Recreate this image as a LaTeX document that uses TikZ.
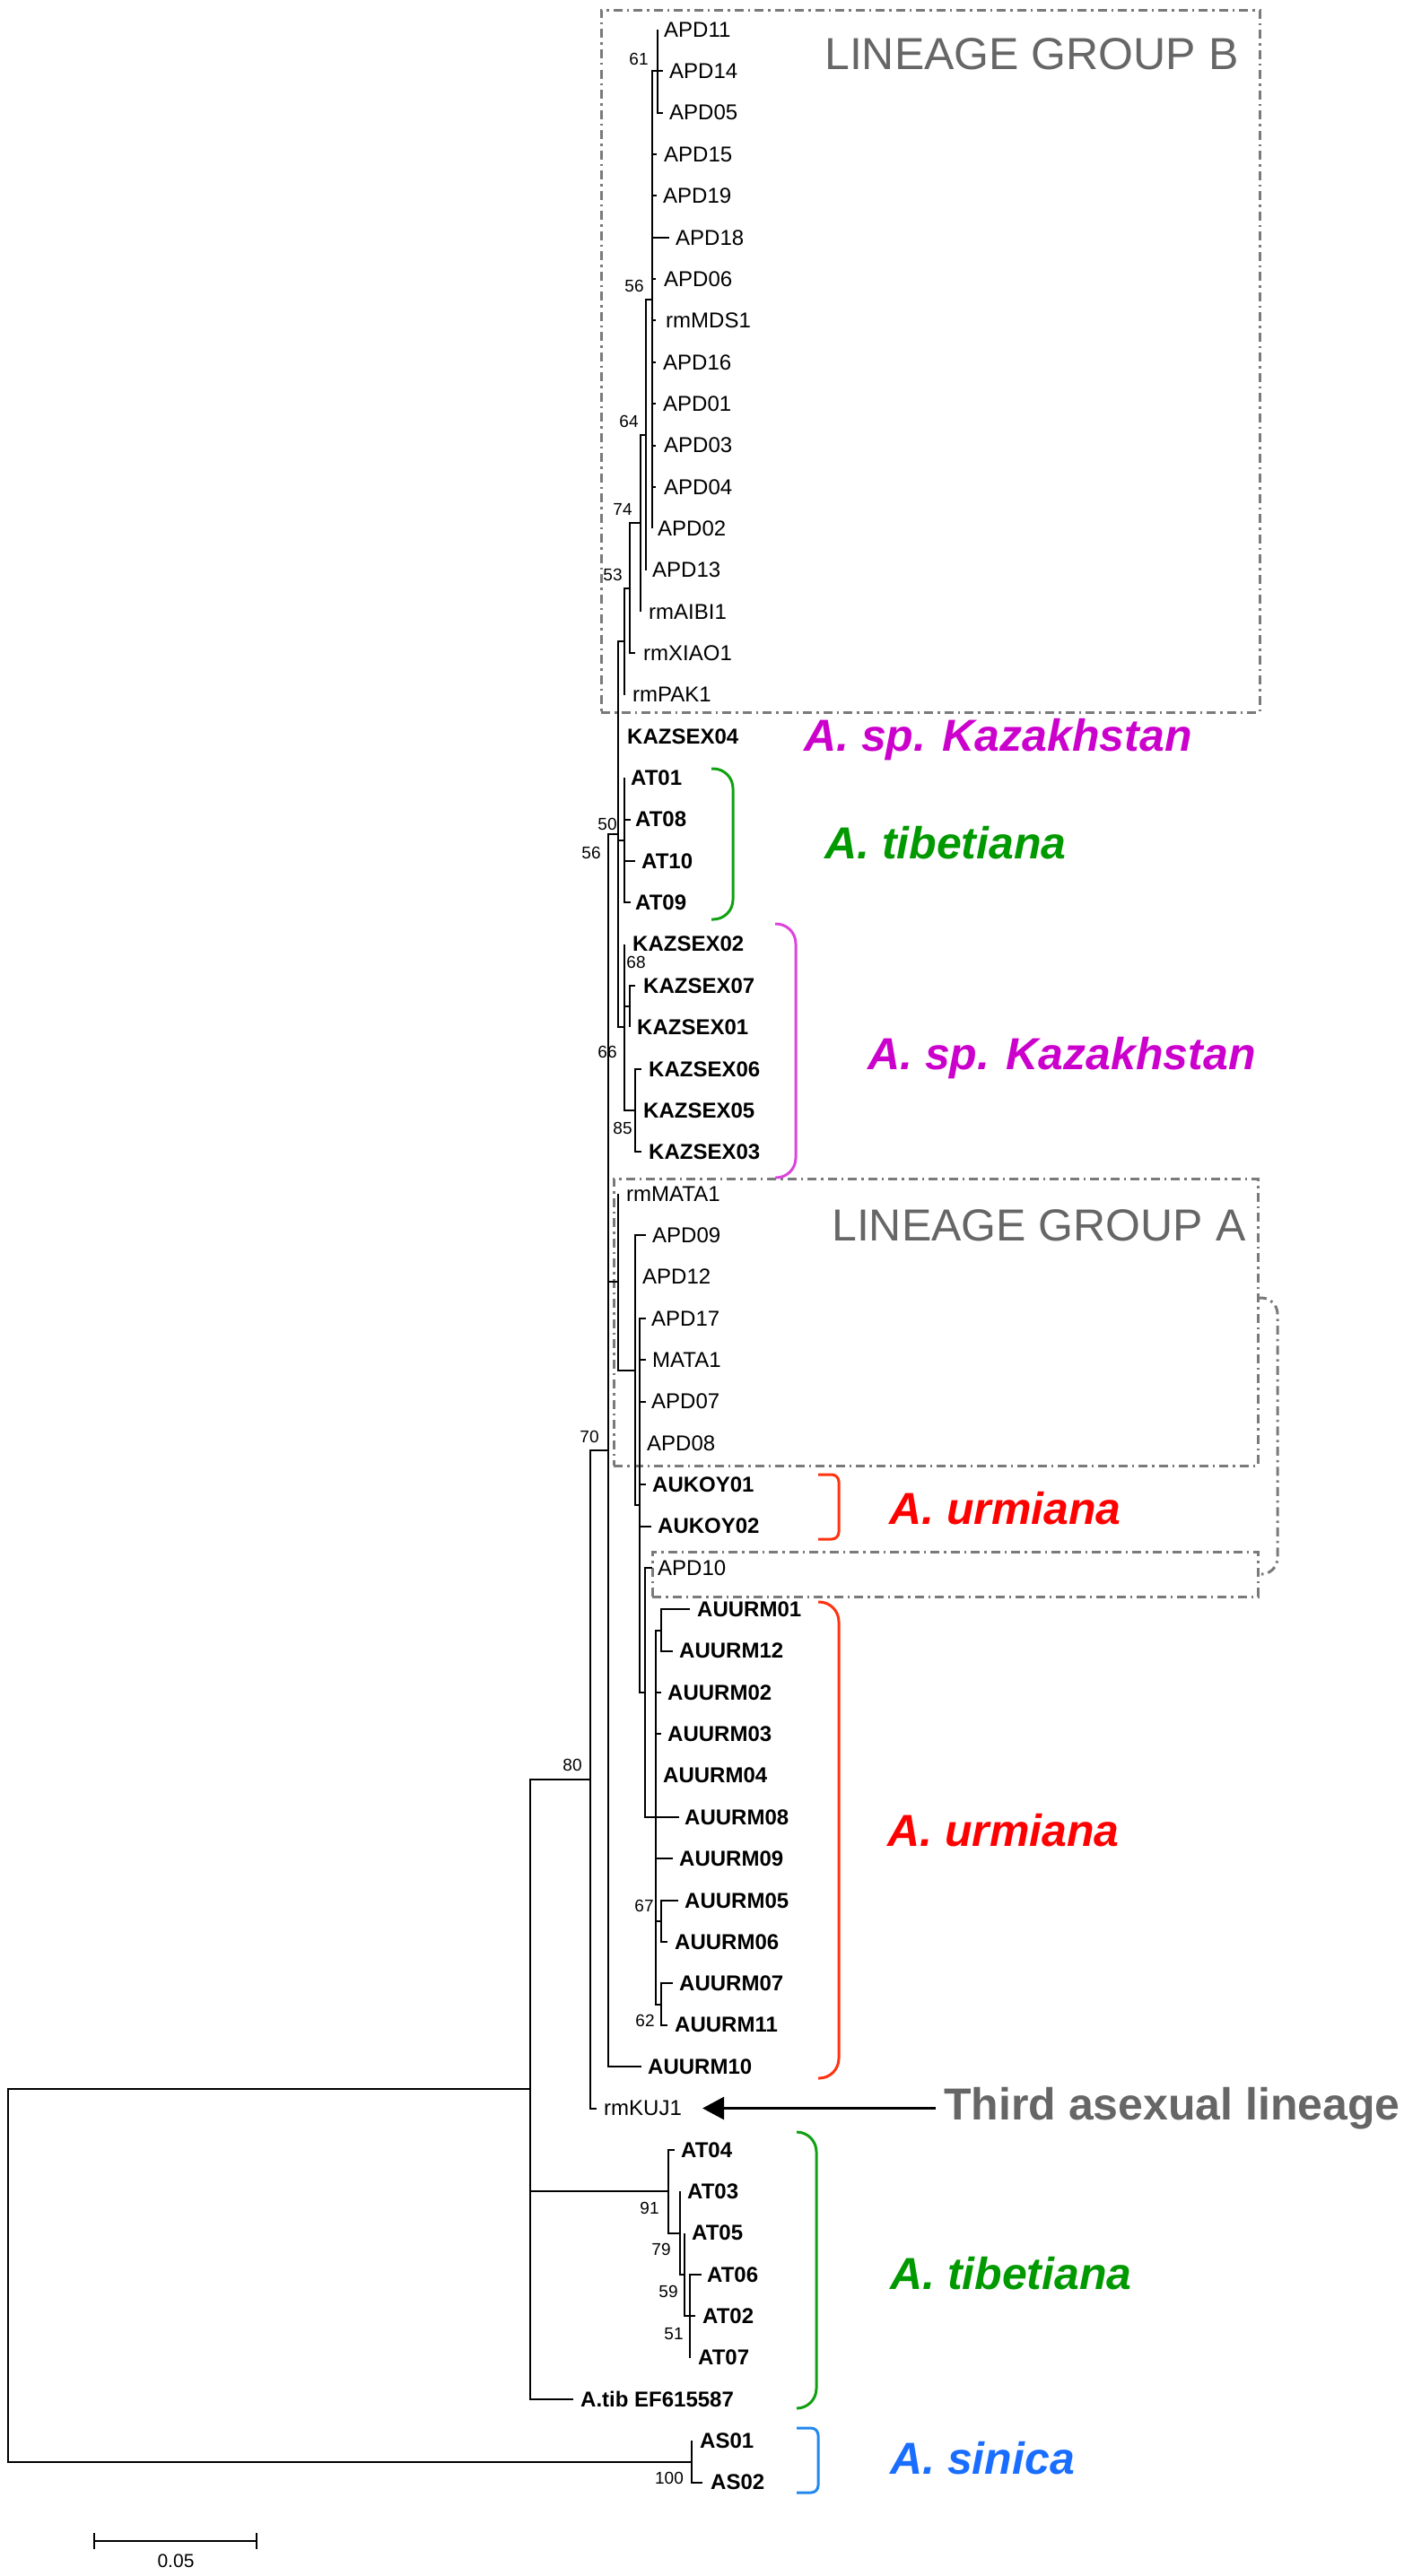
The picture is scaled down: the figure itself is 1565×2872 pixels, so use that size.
\documentclass[tikz,border=0pt]{standalone}
\usepackage{fontspec}
\setmainfont{Liberation Sans}
\usetikzlibrary{arrows.meta,calc}
\definecolor{boxgray}{HTML}{7A7A7A}
\definecolor{titlegray}{HTML}{666666}
\definecolor{spmag}{HTML}{CC00CC}
\definecolor{brmag}{HTML}{DD44DD}
\definecolor{spgreen}{HTML}{009900}
\definecolor{brgreen}{HTML}{11A011}
\definecolor{spred}{HTML}{FF0000}
\definecolor{brred}{HTML}{FF3311}
\definecolor{spblue}{HTML}{1A6EFF}
\definecolor{brblue}{HTML}{2288EE}
\newcommand\leaffnt{\fontsize{24}{28}\selectfont}
\newcommand\bootfnt{\fontsize{19}{22}\selectfont}
\newcommand\bigfnt{\fontsize{50}{60}\selectfont}
% name, parent, tip x, row, label x, style, text
\newcommand\mkleaf[7]{%
  \coordinate (t#1) at (#3,{33+46.35*#4});
  \draw[branch] (#2) |- (t#1);
  \node[#6] (#1) at (#5,{33+46.35*#4}) {#7};}
\begin{document}
\begin{tikzpicture}[x=1pt,y=-1pt,
  branch/.style={line width=2pt,black},
  lf/.style={anchor=west,inner sep=0pt,font=\leaffnt},
  lfb/.style={anchor=west,inner sep=0pt,font=\leaffnt\bfseries},
  bs/.style={inner sep=0pt,font=\bootfnt},
  grpbox/.style={draw=boxgray,line width=3pt,dash pattern=on 10pt off 5pt on 2.5pt off 5pt,inner sep=0pt,outer sep=0pt,anchor=north west},
  grpline/.style={draw=boxgray,line width=3pt,dash pattern=on 10pt off 5pt on 2.5pt off 5pt},
  brk/.style={line width=3pt},
  spc/.style={anchor=base west,inner sep=0pt,font=\bigfnt\bfseries\itshape},
  grptitle/.style={anchor=base west,inner sep=0pt,font=\bigfnt,text=titlegray}]

\fill[white] (0,0) rectangle (1565,2872);
\useasboundingbox (0,0) rectangle (1565,2872);

% lineage boxes
\node[grpbox,minimum width=734pt,minimum height=783pt] (boxB) at (670,11) {};
\node[grpbox,minimum width=718pt,minimum height=320pt] (boxA) at (684,1314) {};
\node[grpbox,minimum width=675pt,minimum height=50pt] (boxA10) at (727,1730) {};
\draw[grpline,rounded corners=18pt] ([yshift=27pt]boxA.east) -- ++(22,0) |- (boxA10.east);
\node[grptitle] (titleB) at (919,77) {LINEAGE GROUP B};
\node[grptitle] (titleA) at (927,1383) {LINEAGE GROUP A};

% internal nodes
\coordinate (n61) at (733,79.35);
\coordinate (n56a) at (727,334.3);
\coordinate (n64) at (720,484.9);
\coordinate (n74) at (714,583.4);
\coordinate (n53) at (702,655.8);
\coordinate (nB) at (696,715.2);
\coordinate (nAT1) at (696,936.8);
\coordinate (nK71) at (702,1122.2);
\coordinate (n85) at (708,1238.1);
\coordinate (nK) at (696,1145.4);
\coordinate (n50) at (689,930.3);
\coordinate (nU2) at (737,1817.5);
\coordinate (n67) at (737,2141.9);
\coordinate (n62) at (737,2234.6);
\coordinate (nU) at (731,2026.05);
\coordinate (nU0) at (719,1887);
\coordinate (nA3) at (713,1678.4);
\coordinate (nA2) at (708,1527.8);
\coordinate (nA1) at (689,1429.3);
\coordinate (n70) at (678,1617.2);
\coordinate (n80) at (658,1983.9);
\coordinate (n51) at (769,2582.25);
\coordinate (n59) at (763,2535.9);
\coordinate (n79) at (758,2489.55);
\coordinate (n91) at (745,2443.2);
\coordinate (nT) at (591,2329.4);
\coordinate (nS) at (771,2744.5);
\coordinate (root) at (9,2537);

\foreach \p/\c in {n56a/n61,n64/n56a,n74/n64,n53/n74,nB/n53,n50/nB,n50/nAT1,n50/nK,
  nK/nK71,nK/n85,n70/n50,n70/nA1,nA1/nA2,nA2/nA3,nA3/nU0,nU0/nU,nU/nU2,nU/n67,nU/n62,
  n80/n70,nT/n80,nT/n91,n91/n79,n79/n59,n59/n51,root/nT,root/nS}
  \draw[branch] (\p) |- (\c);

% leaves
\mkleaf{APD11}{n61}{733}{0}{740}{lf}{APD11}
\mkleaf{APD14}{n61}{739}{1}{746}{lf}{APD14}
\mkleaf{APD05}{n61}{739}{2}{746}{lf}{APD05}
\mkleaf{APD15}{n56a}{732}{3}{740}{lf}{APD15}
\mkleaf{APD19}{n56a}{732}{4}{739}{lf}{APD19}
\mkleaf{APD18}{n56a}{746}{5}{753}{lf}{APD18}
\mkleaf{APD06}{n56a}{731}{6}{740}{lf}{APD06}
\mkleaf{rmMDS1}{n56a}{731}{7}{742}{lf}{rmMDS1}
\mkleaf{APD16}{n56a}{731}{8}{739}{lf}{APD16}
\mkleaf{APD01}{n56a}{731}{9}{739}{lf}{APD01}
\mkleaf{APD03}{n56a}{731}{10}{740}{lf}{APD03}
\mkleaf{APD04}{n56a}{731}{11}{740}{lf}{APD04}
\mkleaf{APD02}{n56a}{727}{12}{733}{lf}{APD02}
\mkleaf{APD13}{n64}{720}{13}{727}{lf}{APD13}
\mkleaf{rmAIBI1}{n74}{714}{14}{723}{lf}{rmAIBI1}
\mkleaf{rmXIAO1}{n53}{708}{15}{717}{lf}{rmXIAO1}
\mkleaf{rmPAK1}{nB}{696}{16}{705}{lf}{rmPAK1}
\mkleaf{KAZSEX04}{n50}{689}{17}{699}{lfb}{KAZSEX04}
\mkleaf{AT01}{nAT1}{696}{18}{703}{lfb}{AT01}
\mkleaf{AT08}{nAT1}{703}{19}{708}{lfb}{AT08}
\mkleaf{AT10}{nAT1}{708}{20}{715}{lfb}{AT10}
\mkleaf{AT09}{nAT1}{703}{21}{708}{lfb}{AT09}
\mkleaf{KAZSEX02}{nK}{696}{22}{705}{lfb}{KAZSEX02}
\mkleaf{KAZSEX07}{nK71}{708}{23}{717}{lfb}{KAZSEX07}
\mkleaf{KAZSEX01}{nK71}{702}{24}{710}{lfb}{KAZSEX01}
\mkleaf{KAZSEX06}{n85}{715}{25}{723}{lfb}{KAZSEX06}
\mkleaf{KAZSEX05}{n85}{708}{26}{717}{lfb}{KAZSEX05}
\mkleaf{KAZSEX03}{n85}{715}{27}{723}{lfb}{KAZSEX03}
\mkleaf{rmMATA1}{nA1}{689}{28}{698}{lf}{rmMATA1}
\mkleaf{APD09}{nA2}{720}{29}{727}{lf}{APD09}
\mkleaf{APD12}{nA2}{708}{30}{716}{lf}{APD12}
\mkleaf{APD17}{nA3}{720}{31}{726}{lf}{APD17}
\mkleaf{MATA1}{nA3}{720}{32}{727}{lf}{MATA1}
\mkleaf{APD07}{nA3}{720}{33}{726}{lf}{APD07}
\mkleaf{APD08}{nA3}{713}{34}{721}{lf}{APD08}
\mkleaf{AUKOY01}{nA3}{720}{35}{727}{lfb}{AUKOY01}
\mkleaf{AUKOY02}{nA3}{726}{36}{733}{lfb}{AUKOY02}
\mkleaf{APD10}{nU0}{727}{37}{733}{lf}{APD10}
\mkleaf{AUURM01}{nU2}{769}{38}{777}{lfb}{AUURM01}
\mkleaf{AUURM12}{nU2}{750}{39}{757}{lfb}{AUURM12}
\mkleaf{AUURM02}{nU}{737}{40}{744}{lfb}{AUURM02}
\mkleaf{AUURM03}{nU}{737}{41}{744}{lfb}{AUURM03}
\mkleaf{AUURM04}{nU}{731}{42}{739}{lfb}{AUURM04}
\mkleaf{AUURM08}{nU}{757}{43}{763}{lfb}{AUURM08}
\mkleaf{AUURM09}{nU}{750}{44}{757}{lfb}{AUURM09}
\mkleaf{AUURM05}{n67}{756}{45}{763}{lfb}{AUURM05}
\mkleaf{AUURM06}{n67}{744}{46}{752}{lfb}{AUURM06}
\mkleaf{AUURM07}{n62}{750}{47}{757}{lfb}{AUURM07}
\mkleaf{AUURM11}{n62}{744}{48}{752}{lfb}{AUURM11}
\mkleaf{AUURM10}{n70}{715}{49}{722}{lfb}{AUURM10}
\mkleaf{rmKUJ1}{n80}{665}{50}{673}{lf}{rmKUJ1}
\mkleaf{AT04}{n91}{752}{51}{759}{lfb}{AT04}
\mkleaf{AT03}{n79}{758}{52}{766}{lfb}{AT03}
\mkleaf{AT05}{n59}{763}{53}{771}{lfb}{AT05}
\mkleaf{AT06}{n51}{782}{54}{788}{lfb}{AT06}
\mkleaf{AT02}{n51}{775}{55}{783}{lfb}{AT02}
\mkleaf{AT07}{n51}{769}{56}{778}{lfb}{AT07}
\mkleaf{lAtib}{nT}{639}{57}{647}{lfb}{A.tib EF615587}
\mkleaf{AS01}{nS}{771}{58}{780}{lfb}{AS01}
\mkleaf{AS02}{nS}{783}{59}{792}{lfb}{AS02}

% bootstrap values
\node[bs] (b61) at (712,66) {61};
\node[bs] (b56a) at (707,319) {56};
\node[bs] (b64) at (701,470) {64};
\node[bs] (b74) at (694,568) {74};
\node[bs] (b53) at (683,641) {53};
\node[bs] (b50) at (677,919) {50};
\node[bs] (b56b) at (659,951) {56};
\node[bs] (b68) at (709,1073) {68};
\node[bs] (b66) at (677,1173) {66};
\node[bs] (b85) at (694,1258) {85};
\node[bs] (b70) at (657,1602) {70};
\node[bs] (b80) at (638,1968) {80};
\node[bs] (b67) at (718,2125) {67};
\node[bs] (b62) at (719,2253) {62};
\node[bs] (b91) at (724,2462) {91};
\node[bs] (b79) at (737,2508) {79};
\node[bs] (b59) at (745,2555) {59};
\node[bs] (b51) at (751,2602) {51};
\node[bs] (b100) at (746,2763) {100};

% coloured brackets
\draw[brk,brgreen,rounded corners=22pt] (793,857) -- (817,857) -- (817,1025) -- (793,1025);
\draw[brk,brmag,rounded corners=22pt] (864,1030) -- (887,1030) -- (887,1313) -- (864,1313);
\draw[brk,brred,rounded corners=8pt] (912,1644) -- (935,1644) -- (935,1716) -- (912,1716);
\draw[brk,brred,rounded corners=22pt] (912,1786) -- (935,1786) -- (935,2317) -- (912,2317);
\draw[brk,brgreen,rounded corners=22pt] (888,2377) -- (910,2377) -- (910,2685) -- (888,2685);
\draw[brk,brblue,rounded corners=8pt] (888,2707) -- (912,2707) -- (912,2779) -- (888,2779);

% species names
\node[spc,text=spmag] (spK1) at (896,837) {A. sp. Kazakhstan};
\node[spc,text=spgreen] (spT1) at (919,957) {A. tibetiana};
\node[spc,text=spmag] (spK2) at (967,1192) {A. sp. Kazakhstan};
\node[spc,text=spred] (spU1) at (991,1699) {A. urmiana};
\node[spc,text=spred] (spU2) at (989,2058) {A. urmiana};
\node[spc,text=spgreen] (spT2) at (992,2552) {A. tibetiana};
\node[spc,text=spblue] (spS) at (992,2758) {A. sinica};
\node[anchor=base west,inner sep=0pt,font=\bigfnt\bfseries,text=titlegray] (third) at (1052,2363) {Third asexual lineage};
\draw[line width=3pt,-{Triangle[length=24pt,width=25pt]}] ($(third.west |- rmKUJ1.east)+(-9,0)$) -- ($(rmKUJ1.east)+(23,0)$);

% scale bar
\coordinate (sbL) at (105,2833);
\coordinate (sbR) at (286,2833);
\draw[line width=2pt] (sbL) -- (sbR);
\draw[line width=2pt] ([yshift=9pt]sbL) -- ([yshift=-9pt]sbL);
\draw[line width=2pt] ([yshift=9pt]sbR) -- ([yshift=-9pt]sbR);
\node[inner sep=0pt,font=\fontsize{21}{24}\selectfont] (sblab) at (196,2855) {0.05};
\end{tikzpicture}
\end{document}
